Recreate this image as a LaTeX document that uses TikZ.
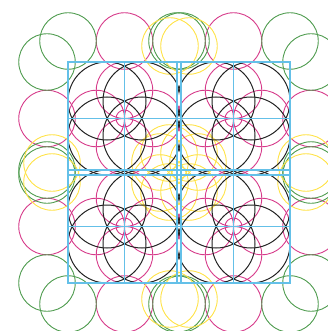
\documentclass[tikz,border=0pt]{standalone}
\begin{document}
\begin{tikzpicture}[x=1pt,y=-1pt,
  pinkc/.style={draw=pinkcol,line width=0.9pt},
  greenc/.style={draw=greencol,line width=0.9pt},
  yellowc/.style={draw=yellowcol,line width=0.9pt},
  blackc/.style={draw=blackcol,line width=1pt},
  gridc/.style={draw=gridcol,line width=1.7pt}]
\definecolor{pinkcol}{RGB}{214,58,138}
\definecolor{greencol}{RGB}{78,155,78}
\definecolor{yellowcol}{RGB}{255,226,70}
\definecolor{blackcol}{RGB}{35,35,35}
\definecolor{gridcol}{RGB}{100,192,232}
\useasboundingbox (0,0) rectangle (328,331);
\clip (0,0) rectangle (328,331);
\def\h{56.5}
\def\r{28.25}
\def\d{17.5}
\def\R{39}
% periphery: pink
\foreach \x/\y in {124.5/41, 233.5/41, 124.5/304, 233.5/304, 47/118.5, 47/226.5, 311/118.5, 311/226.5}
  \draw[pinkc] (\x,\y) circle[radius=\r];
% periphery: green
\foreach \x/\y in {68/41, 47/62, 290/41, 311/62, 68/304, 47/283, 290/304, 311/283,
  181/41, 177/41, 181/304, 177/304, 47/175, 47/170, 311/175, 311/170}
  \draw[greenc] (\x,\y) circle[radius=\r];
% yellow
\foreach \x/\y in {170/46, 189/46, 170/299, 189/299, 52/163, 52/182, 306/163, 306/182,
  189/192, 198/183, 169/192, 160/183, 189/153, 198/162, 169/153, 160/162}
  \draw[yellowc] (\x,\y) circle[radius=\r];
% blocks
\foreach \cx/\cy in {124.5/118.5, 233.5/118.5, 124.5/226.5, 233.5/226.5} {
  \foreach \sx/\sy in {1/0,-1/0,0/1,0/-1}
    \draw[pinkc] (\cx+\sx*\r,\cy+\sy*\r) circle[radius=\r];
  \draw[pinkc] (\cx,\cy) circle[radius=8.5];
  \foreach \sx/\sy in {1/1,1/-1,-1/1,-1/-1}
    \draw[blackc] (\cx+\sx*\d,\cy+\sy*\d) circle[radius=\R];
}
\foreach \cx/\cy in {124.5/118.5, 233.5/118.5, 124.5/226.5, 233.5/226.5} {
  \draw[gridc] (\cx-\h,\cy-\h) rectangle (\cx+\h,\cy+\h);
  \draw[gridc] (\cx-\h,\cy) -- (\cx+\h,\cy) (\cx,\cy-\h) -- (\cx,\cy+\h);
}
\end{tikzpicture}
\end{document}
